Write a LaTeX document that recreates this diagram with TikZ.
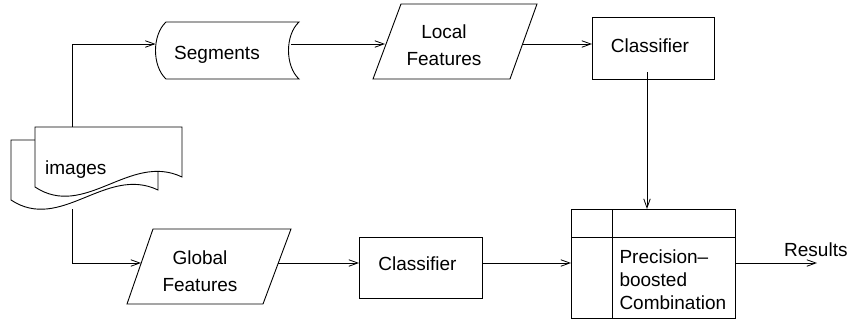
\documentclass[tikz,border=0pt]{standalone}
\usepackage{fontspec}
\setmainfont{Liberation Sans}
\usetikzlibrary{arrows.meta}
\begin{document}
\begin{tikzpicture}[x=1pt,y=-1pt,
  shp/.style={draw=black, fill=white, line width=0.9pt},
  conn/.style={draw=black, line width=0.9pt, -{Straight Barb[length=9pt,width=6.5pt,line width=0.8pt]}},
  lbl/.style={font=\fontsize{19}{27.4}\selectfont, inner sep=0pt, align=center, anchor=base},
  lbll/.style={font=\fontsize{19}{22.7}\selectfont, inner sep=0pt, align=left, anchor=base west}]
\useasboundingbox (0,0) rectangle (847,322);
% images (multi-document)
\draw[shp] (11,140) -- (158,140) -- (158,190) .. controls (106,165) and (61,233) .. (11,200) -- cycle;
\draw[shp] (35,127) -- (182,127) -- (182,177) .. controls (130,152) and (85,220) .. (35,187) -- cycle;
\node[lbl, anchor=base west] (images) at (45,174) {images};
% Segments
\draw[shp] (166,22) -- (299,22) .. controls (285,35) and (285,66) .. (299,79) -- (166,79) .. controls (152,66) and (152,35) .. cycle;
\node[lbl] (segments) at (217,59) {Segments};
% Local Features
\draw[shp] (401,4) -- (537,4) -- (510,79) -- (373,79) -- cycle;
\node[lbl] (local) at (444,65.7) {Local\\Features};
% Classifier top
\draw[shp] (592,17) rectangle (714,79);
\node[lbl] (cls1) at (650,52.3) {Classifier};
% Global Features
\draw[shp] (153,229) -- (291,229) -- (263,304) -- (127,304) -- cycle;
\node[lbl] (global) at (200,291.7) {Global\\Features};
% Classifier bottom
\draw[shp] (359,237) rectangle (482,298);
\node[lbl] (cls2) at (417.5,270.7) {Classifier};
% Combination
\draw[shp] (571,209) rectangle (735,318);
\draw[line width=0.9pt] (571,237) -- (735,237);
\draw[line width=0.9pt] (612,209) -- (612,318);
\node[lbll] (comb) at (619.3,309.3) {Precision–\\boosted\\Combination};
\node[lbl, anchor=base west] (results) at (784,256) {Results};
% connection points
\coordinate (imgtop) at (72,127);
\coordinate (imgbot) at (72,209);
\coordinate (segw) at (155.5,44);
\coordinate (sege) at (291,44);
\coordinate (locw) at (385,44);
\coordinate (loce) at (523,44);
\coordinate (clsaw) at (592,44);
\coordinate (clsas) at (647,72);
\coordinate (combn) at (647,209);
\coordinate (globw) at (141,263);
\coordinate (globe) at (278,263);
\coordinate (clsbw) at (359,263);
\coordinate (clsbe) at (482,263);
\coordinate (combw) at (571,263);
\coordinate (combe) at (735,263);
\coordinate (resend) at (817,263);
% connectors
\draw[conn] (imgtop) |- (segw);
\draw[conn] (imgbot) |- (globw);
\draw[conn] (sege) -- (locw);
\draw[conn] (loce) -- (clsaw);
\draw[conn] (clsas) -- (combn);
\draw[conn] (globe) -- (clsbw);
\draw[conn] (clsbe) -- (combw);
\draw[conn] (combe) -- (resend);
\end{tikzpicture}
\end{document}
